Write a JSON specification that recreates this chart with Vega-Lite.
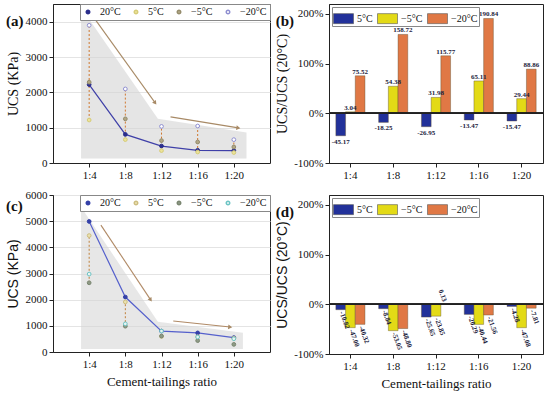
{
  "$schema": "https://vega.github.io/schema/vega-lite/v6.json",
  "background": "white",
  "padding": {"left": 5, "top": 3, "right": 3, "bottom": 4},
  "spacing": 7,
  "config": {
    "locale": {"number": {"decimal": ".", "thousands": ",", "grouping": [3], "currency": ["$", ""], "minus": "-"}},
    "font": "Liberation Serif",
    "view": {"stroke": "#222", "strokeWidth": 1},
    "axis": {"labelFont": "Liberation Serif", "labelFontSize": 11, "labelColor": "#111", "titleFont": "Liberation Serif", "titleFontSize": 14, "titleFontWeight": "normal", "titleColor": "#111", "domainColor": "#222", "tickColor": "#222", "tickSize": 4, "labelPadding": 2},
    "title": {"font": "Liberation Serif", "fontSize": 15, "fontWeight": "bold", "color": "#111"},
    "legend": {"labelFont": "Liberation Serif", "labelFontSize": 10, "labelColor": "#111"}
  },
  "resolve": {"scale": {"x": "independent", "y": "independent", "fill": "independent", "stroke": "independent"}, "legend": {"fill": "independent", "stroke": "independent"}},
  "datasets": {
    "ucsA": [
      {"n": 4, "temp": "20°C", "v": 2220}, {"n": 8, "temp": "20°C", "v": 810}, {"n": 12, "temp": "20°C", "v": 480}, {"n": 16, "temp": "20°C", "v": 360}, {"n": 20, "temp": "20°C", "v": 350},
      {"n": 4, "temp": "5°C", "v": 1217}, {"n": 8, "temp": "5°C", "v": 662}, {"n": 12, "temp": "5°C", "v": 351}, {"n": 16, "temp": "5°C", "v": 311}, {"n": 20, "temp": "5°C", "v": 296},
      {"n": 4, "temp": "−5°C", "v": 2287}, {"n": 8, "temp": "−5°C", "v": 1250}, {"n": 12, "temp": "−5°C", "v": 634}, {"n": 16, "temp": "−5°C", "v": 594}, {"n": 20, "temp": "−5°C", "v": 453},
      {"n": 4, "temp": "−20°C", "v": 3897}, {"n": 8, "temp": "−20°C", "v": 2096}, {"n": 12, "temp": "−20°C", "v": 1036}, {"n": 16, "temp": "−20°C", "v": 1047}, {"n": 20, "temp": "−20°C", "v": 661}
    ],
    "shadeA": [{"n": 3.1, "v": 4400, "v2": 130}, {"n": 11.6, "v": 1250, "v2": 130}, {"n": 21.4, "v": 860, "v2": 130}],
    "arrowA": [{"n": 4.6, "v": 4085, "n2": 11.3, "v2": 1700}, {"n": 13.0, "v": 1305, "n2": 20.5, "v2": 993}],
    "headA1": [{"n": 11.3, "v": 1700}],
    "headA2": [{"n": 20.5, "v": 993}],
    "dotA": [{"n": 4, "v": 1217, "v2": 3897}, {"n": 8, "v": 662, "v2": 2096}, {"n": 12, "v": 351, "v2": 1036}, {"n": 16, "v": 311, "v2": 1047}, {"n": 20, "v": 296, "v2": 661}],
    "ucsC": [
      {"n": 4, "temp": "20°C", "v": 4990}, {"n": 8, "temp": "20°C", "v": 2100}, {"n": 12, "temp": "20°C", "v": 800}, {"n": 16, "temp": "20°C", "v": 730}, {"n": 20, "temp": "20°C", "v": 550},
      {"n": 4, "temp": "5°C", "v": 4450}, {"n": 8, "temp": "5°C", "v": 1914}, {"n": 12, "temp": "5°C", "v": 595}, {"n": 16, "temp": "5°C", "v": 582}, {"n": 20, "temp": "5°C", "v": 526},
      {"n": 4, "temp": "−5°C", "v": 2645}, {"n": 8, "temp": "−5°C", "v": 986}, {"n": 12, "temp": "−5°C", "v": 609}, {"n": 16, "temp": "−5°C", "v": 435}, {"n": 20, "temp": "−5°C", "v": 291},
      {"n": 4, "temp": "−20°C", "v": 2978}, {"n": 8, "temp": "−20°C", "v": 1075}, {"n": 12, "temp": "−20°C", "v": 801}, {"n": 16, "temp": "−20°C", "v": 573}, {"n": 20, "temp": "−20°C", "v": 507}
    ],
    "shadeC": [{"n": 3.1, "v": 5540, "v2": 115}, {"n": 11.6, "v": 1160, "v2": 115}, {"n": 21.0, "v": 740, "v2": 115}],
    "arrowC": [{"n": 5.3, "v": 4850, "n2": 10.8, "v2": 1990}, {"n": 13.3, "v": 1185, "n2": 19.6, "v2": 955}],
    "headC1": [{"n": 10.8, "v": 1990}],
    "headC2": [{"n": 19.6, "v": 955}],
    "dotC": [{"n": 4, "v": 2645, "v2": 4450}, {"n": 8, "v": 986, "v2": 1914}],
    "barB": [
      {"r": "1:4", "temp": "5°C", "v": -45.17}, {"r": "1:8", "temp": "5°C", "v": -18.25}, {"r": "1:12", "temp": "5°C", "v": -26.95}, {"r": "1:16", "temp": "5°C", "v": -13.47}, {"r": "1:20", "temp": "5°C", "v": -15.47},
      {"r": "1:4", "temp": "−5°C", "v": 3.04}, {"r": "1:8", "temp": "−5°C", "v": 54.38}, {"r": "1:12", "temp": "−5°C", "v": 31.98}, {"r": "1:16", "temp": "−5°C", "v": 65.11}, {"r": "1:20", "temp": "−5°C", "v": 29.44},
      {"r": "1:4", "temp": "−20°C", "v": 75.52}, {"r": "1:8", "temp": "−20°C", "v": 158.72}, {"r": "1:12", "temp": "−20°C", "v": 115.77}, {"r": "1:16", "temp": "−20°C", "v": 190.84}, {"r": "1:20", "temp": "−20°C", "v": 88.86}
    ],
    "barD": [
      {"r": "1:4", "temp": "5°C", "v": -10.82}, {"r": "1:8", "temp": "5°C", "v": -8.84}, {"r": "1:12", "temp": "5°C", "v": -25.65}, {"r": "1:16", "temp": "5°C", "v": -20.29}, {"r": "1:20", "temp": "5°C", "v": -4.28},
      {"r": "1:4", "temp": "−5°C", "v": -47.00}, {"r": "1:8", "temp": "−5°C", "v": -53.05}, {"r": "1:12", "temp": "−5°C", "v": -23.85}, {"r": "1:16", "temp": "−5°C", "v": -40.44}, {"r": "1:20", "temp": "−5°C", "v": -47.08},
      {"r": "1:4", "temp": "−20°C", "v": -40.32}, {"r": "1:8", "temp": "−20°C", "v": -48.80}, {"r": "1:12", "temp": "−20°C", "v": 0.13}, {"r": "1:16", "temp": "−20°C", "v": -21.56}, {"r": "1:20", "temp": "−20°C", "v": -7.81}
    ]
  },
  "vconcat": [
    {
      "hconcat": [
        {
          "width": 217, "height": 159,
          "title": {"text": "(a)", "anchor": "start", "frame": "bounds", "offset": -25},
          "encoding": {
            "x": {"field": "n", "type": "quantitative", "scale": {"domain": [0, 24], "nice": false}, "axis": {"values": [4, 8, 12, 16, 20], "labelExpr": "'1:' + datum.value", "title": null, "grid": false, "labelFlush": false}},
            "y": {"field": "v", "type": "quantitative", "scale": {"domain": [0, 4500], "nice": false}, "axis": {"values": [0, 1000, 2000, 3000, 4000], "format": "d", "title": "UCS (KPa)", "grid": true, "gridColor": "#e4e4e4", "titlePadding": 5}}
          },
          "layer": [
            {"data": {"name": "shadeA"}, "mark": {"type": "area", "color": "#d4d4d4", "opacity": 0.6}, "encoding": {"y2": {"field": "v2"}}},
            {"data": {"name": "dotA"}, "mark": {"type": "rule", "color": "#d0782f", "strokeDash": [2, 2], "strokeWidth": 1}, "encoding": {"y2": {"field": "v2"}}},
            {"data": {"name": "arrowA"}, "mark": {"type": "rule", "color": "#a88a66", "strokeWidth": 1.1}, "encoding": {"x2": {"field": "n2"}, "y2": {"field": "v2"}}},
            {"data": {"name": "headA1"}, "mark": {"type": "point", "shape": "triangle-up", "filled": true, "size": 22, "angle": 144, "color": "#a88a66", "opacity": 1}, "encoding": {}},
            {"data": {"name": "headA2"}, "mark": {"type": "point", "shape": "triangle-up", "filled": true, "size": 22, "angle": 99, "color": "#a88a66", "opacity": 1}, "encoding": {}},
            {"data": {"name": "ucsA"}, "transform": [{"filter": "datum.temp == '20°C'"}], "mark": {"type": "line", "color": "#3f40a8", "strokeWidth": 1.2}, "encoding": {}},
            {"data": {"name": "ucsA"}, "mark": {"type": "point", "filled": true, "size": 14, "strokeWidth": 1, "opacity": 1},
             "encoding": {
               "fill": {"field": "temp", "type": "nominal", "scale": {"domain": ["20°C", "5°C", "−5°C", "−20°C"], "range": ["#2b2e8c", "#ece39a", "#b2a886", "#ffffff"]},
                        "legend": {"title": null, "orient": "top-right", "direction": "horizontal", "columns": 4, "offset": 0, "padding": 3, "strokeColor": "#888", "fillColor": "white", "symbolSize": 12, "columnPadding": 10, "labelOffset": 7}},
               "stroke": {"field": "temp", "type": "nominal", "scale": {"domain": ["20°C", "5°C", "−5°C", "−20°C"], "range": ["#2b2e8c", "#d6cc78", "#958c6c", "#8e8ed0"]},
                        "legend": {"title": null, "orient": "top-right", "direction": "horizontal", "columns": 4, "offset": 0, "padding": 3, "strokeColor": "#888", "fillColor": "white", "symbolSize": 12, "columnPadding": 10, "labelOffset": 7}}
             }}
          ]
        },
        {
          "width": 214, "height": 159,
          "title": {"text": "(b)", "anchor": "start", "frame": "bounds", "offset": -25},
          "data": {"name": "barB"},
          "layer": [
            {"mark": {"type": "bar", "stroke": "#5b4a28", "strokeWidth": 0.4},
             "encoding": {
               "x": {"field": "r", "type": "nominal", "sort": ["1:4", "1:8", "1:12", "1:16", "1:20"], "scale": {"paddingInner": 0.32, "paddingOuter": 0.16}, "axis": {"title": null, "labelAngle": 0}},
               "xOffset": {"field": "temp", "type": "nominal", "sort": ["5°C", "−5°C", "−20°C"]},
               "y": {"field": "v", "type": "quantitative", "scale": {"domain": [-100, 220], "nice": false}, "axis": {"values": [-100, -50, 0, 50, 100, 150, 200], "labelExpr": "datum.value + '%'", "title": "UCS/UCS (20°C)", "grid": false, "titlePadding": 4}},
               "fill": {"field": "temp", "type": "nominal", "scale": {"domain": ["5°C", "−5°C", "−20°C"], "range": ["#22319a", "#e3da16", "#e07845"]},
                        "legend": {"title": null, "orient": "top-left", "direction": "horizontal", "columns": 3, "offset": 3, "padding": 1, "strokeColor": "#888", "fillColor": "white", "symbolType": "M-1,-0.5H1V0.5H-1Z", "symbolSize": 400, "symbolStrokeColor": "#555", "symbolStrokeWidth": 0.6, "labelFontSize": 10, "columnPadding": 3, "labelOffset": 3}}
             }},
            {"mark": {"type": "rule", "color": "#222", "strokeWidth": 1}, "encoding": {"y": {"datum": 0, "type": "quantitative"}}},
            {"transform": [{"filter": "datum.v >= 0"}],
             "mark": {"type": "text", "baseline": "bottom", "dy": -1, "fontSize": 7, "fontWeight": "bold", "font": "Liberation Serif", "color": "#1c1c3c"},
             "encoding": {
               "x": {"field": "r", "type": "nominal", "sort": ["1:4", "1:8", "1:12", "1:16", "1:20"]},
               "xOffset": {"field": "temp", "type": "nominal", "sort": ["5°C", "−5°C", "−20°C"]},
               "y": {"field": "v", "type": "quantitative"},
               "text": {"field": "v", "type": "quantitative", "format": ".2f"}
             }},
            {"transform": [{"filter": "datum.v < 0"}],
             "mark": {"type": "text", "baseline": "top", "dy": 2, "fontSize": 7, "fontWeight": "bold", "font": "Liberation Serif", "color": "#1c1c3c"},
             "encoding": {
               "x": {"field": "r", "type": "nominal", "sort": ["1:4", "1:8", "1:12", "1:16", "1:20"]},
               "xOffset": {"field": "temp", "type": "nominal", "sort": ["5°C", "−5°C", "−20°C"]},
               "y": {"field": "v", "type": "quantitative"},
               "text": {"field": "v", "type": "quantitative", "format": ".2f"}
             }}
          ]
        }
      ],
      "spacing": 4,
      "resolve": {"scale": {"x": "independent", "y": "independent", "fill": "independent", "stroke": "independent"}, "legend": {"fill": "independent", "stroke": "independent"}}
    },
    {
      "hconcat": [
        {
          "width": 217, "height": 157,
          "title": {"text": "(c)", "anchor": "start", "frame": "bounds", "offset": -25},
          "encoding": {
            "x": {"field": "n", "type": "quantitative", "scale": {"domain": [0, 24], "nice": false}, "axis": {"values": [4, 8, 12, 16, 20], "labelExpr": "'1:' + datum.value", "title": "Cement-tailings ratio", "titleFontSize": 13, "titlePadding": 6, "grid": false, "labelFlush": false}},
            "y": {"field": "v", "type": "quantitative", "scale": {"domain": [0, 6000], "nice": false}, "axis": {"values": [0, 1000, 2000, 3000, 4000, 5000, 6000], "format": "d", "title": "UCS (KPa)", "titleFont": "Liberation Sans", "grid": true, "gridColor": "#e4e4e4", "titlePadding": 5}}
          },
          "layer": [
            {"data": {"name": "shadeC"}, "mark": {"type": "area", "color": "#d4d4d4", "opacity": 0.55}, "encoding": {"y2": {"field": "v2"}}},
            {"data": {"name": "dotC"}, "mark": {"type": "rule", "color": "#c0803a", "strokeDash": [2, 2], "strokeWidth": 1}, "encoding": {"y2": {"field": "v2"}}},
            {"data": {"name": "arrowC"}, "mark": {"type": "rule", "color": "#b08a66", "strokeWidth": 1.1}, "encoding": {"x2": {"field": "n2"}, "y2": {"field": "v2"}}},
            {"data": {"name": "headC1"}, "mark": {"type": "point", "shape": "triangle-up", "filled": true, "size": 22, "angle": 146, "color": "#a88a66", "opacity": 1}, "encoding": {}},
            {"data": {"name": "headC2"}, "mark": {"type": "point", "shape": "triangle-up", "filled": true, "size": 22, "angle": 96, "color": "#a88a66", "opacity": 1}, "encoding": {}},
            {"data": {"name": "ucsC"}, "transform": [{"filter": "datum.temp == '20°C'"}], "mark": {"type": "line", "color": "#5560cc", "strokeWidth": 1.2}, "encoding": {}},
            {"data": {"name": "ucsC"}, "mark": {"type": "point", "filled": true, "size": 14, "strokeWidth": 1, "opacity": 1},
             "encoding": {
               "fill": {"field": "temp", "type": "nominal", "scale": {"domain": ["20°C", "5°C", "−5°C", "−20°C"], "range": ["#3440a8", "#ebe2b0", "#8e9a86", "#e8f4f4"]},
                        "legend": {"title": null, "orient": "top-right", "direction": "horizontal", "columns": 4, "offset": 0, "padding": 3, "strokeColor": "#888", "fillColor": "white", "symbolSize": 12, "columnPadding": 10, "labelOffset": 7}},
               "stroke": {"field": "temp", "type": "nominal", "scale": {"domain": ["20°C", "5°C", "−5°C", "−20°C"], "range": ["#3440a8", "#cdbd80", "#7a8670", "#6cc4c4"]},
                        "legend": {"title": null, "orient": "top-right", "direction": "horizontal", "columns": 4, "offset": 0, "padding": 3, "strokeColor": "#888", "fillColor": "white", "symbolSize": 12, "columnPadding": 10, "labelOffset": 7}}
             }}
          ]
        },
        {
          "width": 214, "height": 159,
          "title": {"text": "(d)", "anchor": "start", "frame": "bounds", "offset": -25},
          "data": {"name": "barD"},
          "layer": [
            {"mark": {"type": "bar", "stroke": "#5b4a28", "strokeWidth": 0.4},
             "encoding": {
               "x": {"field": "r", "type": "nominal", "sort": ["1:4", "1:8", "1:12", "1:16", "1:20"], "scale": {"paddingInner": 0.32, "paddingOuter": 0.16}, "axis": {"title": "Cement-tailings ratio", "titleFontSize": 13, "titlePadding": 6, "labelAngle": 0}},
               "xOffset": {"field": "temp", "type": "nominal", "sort": ["5°C", "−5°C", "−20°C"]},
               "y": {"field": "v", "type": "quantitative", "scale": {"domain": [-100, 220], "nice": false}, "axis": {"values": [-100, -50, 0, 50, 100, 150, 200], "labelExpr": "datum.value + '%'", "title": "UCS/UCS (20°C)", "titleFont": "Liberation Sans", "grid": false, "titlePadding": 4}},
               "fill": {"field": "temp", "type": "nominal", "scale": {"domain": ["5°C", "−5°C", "−20°C"], "range": ["#22319a", "#e3da16", "#e07845"]},
                        "legend": {"title": null, "orient": "top-left", "direction": "horizontal", "columns": 3, "offset": 3, "padding": 1, "strokeColor": "#888", "fillColor": "white", "symbolType": "M-1,-0.5H1V0.5H-1Z", "symbolSize": 400, "symbolStrokeColor": "#555", "symbolStrokeWidth": 0.6, "labelFontSize": 10, "columnPadding": 3, "labelOffset": 3}}
             }},
            {"mark": {"type": "rule", "color": "#222", "strokeWidth": 1}, "encoding": {"y": {"datum": 0, "type": "quantitative"}}},
            {"transform": [{"filter": "datum.v >= 0"}],
             "mark": {"type": "text", "align": "right", "baseline": "middle", "angle": 70, "dx": -3, "fontSize": 7, "fontWeight": "bold", "font": "Liberation Serif", "color": "#1c1c3c"},
             "encoding": {
               "x": {"field": "r", "type": "nominal", "sort": ["1:4", "1:8", "1:12", "1:16", "1:20"]},
               "xOffset": {"field": "temp", "type": "nominal", "sort": ["5°C", "−5°C", "−20°C"]},
               "y": {"field": "v", "type": "quantitative"},
               "text": {"field": "v", "type": "quantitative", "format": ".2f"}
             }},
            {"transform": [{"filter": "datum.v < 0"}],
             "mark": {"type": "text", "align": "left", "baseline": "middle", "angle": 70, "dx": 2, "fontSize": 7, "fontWeight": "bold", "font": "Liberation Serif", "color": "#1c1c3c"},
             "encoding": {
               "x": {"field": "r", "type": "nominal", "sort": ["1:4", "1:8", "1:12", "1:16", "1:20"]},
               "xOffset": {"field": "temp", "type": "nominal", "sort": ["5°C", "−5°C", "−20°C"]},
               "y": {"field": "v", "type": "quantitative"},
               "text": {"field": "v", "type": "quantitative", "format": ".2f"}
             }}
          ]
        }
      ],
      "spacing": 4,
      "resolve": {"scale": {"x": "independent", "y": "independent", "fill": "independent", "stroke": "independent"}, "legend": {"fill": "independent", "stroke": "independent"}}
    }
  ]
}
